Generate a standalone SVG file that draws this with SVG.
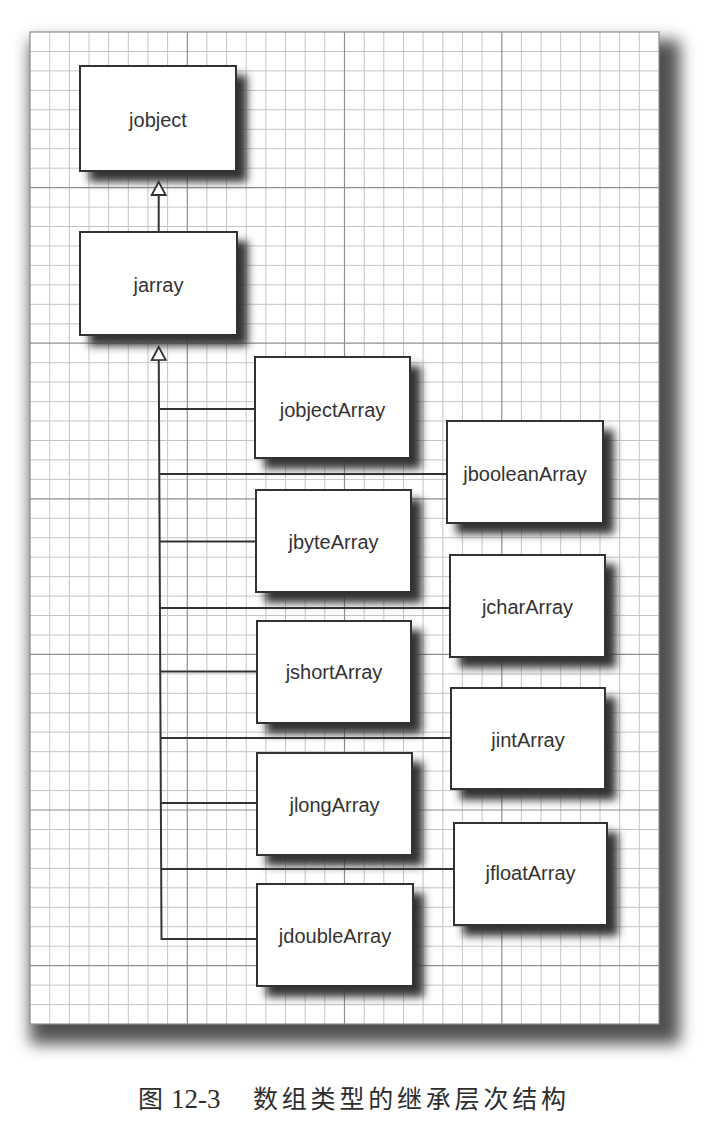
<svg xmlns="http://www.w3.org/2000/svg" width="704" height="1130" viewBox="0 0 704 1130">
<defs>
<style>
.minor{fill:none;stroke:#c4c4c4;stroke-width:1}
.major{fill:none;stroke:#8e8e8e;stroke-width:1.2}
.box{fill:#fff;stroke:#333;stroke-width:2}
.lbl{font-family:"Liberation Sans",Arial,Helvetica,sans-serif;font-size:20px;fill:#333;text-anchor:middle}
.conn{fill:none;stroke:#333;stroke-width:2;stroke-linejoin:miter}
.cap{font-family:"Liberation Serif","Noto Sans CJK SC",serif;font-size:25px;fill:#2e2e2e}
</style>
<filter id="pshadow" x="-10%" y="-10%" width="120%" height="120%">
<feGaussianBlur stdDeviation="8"/>
</filter>
<filter id="nshadow" x="-25%" y="-25%" width="160%" height="160%">
<feGaussianBlur in="SourceAlpha" stdDeviation="4" result="bl"/>
<feOffset in="bl" dx="10" dy="10" result="off"/>
<feFlood flood-color="#333" flood-opacity="1"/>
<feComposite in2="off" operator="in"/>
<feMerge><feMergeNode/><feMergeNode in="SourceGraphic"/></feMerge>
</filter>
<marker id="tri" viewBox="-2 -9 18 18" refX="13" refY="0" markerWidth="18" markerHeight="18" markerUnits="userSpaceOnUse" orient="auto">
<path d="M0,-7 L13,0 L0,7 Z" fill="#fff" stroke="#333" stroke-width="1.8"/>
</marker>
</defs>
<rect width="704" height="1130" fill="#fff"/>
<g id="panel">
<rect x="30" y="40" width="650" height="1004" fill="#333" opacity="0.85" filter="url(#pshadow)"/>
<rect x="30" y="32" width="629" height="992" fill="#fff"/>
<path class="minor" d="M49.7,32V1024M69.3,32V1024M89,32V1024M108.6,32V1024M128.3,32V1024M147.9,32V1024M167.6,32V1024M206.9,32V1024M226.6,32V1024M246.2,32V1024M265.9,32V1024M285.5,32V1024M305.2,32V1024M324.8,32V1024M364.2,32V1024M383.8,32V1024M403.5,32V1024M423.1,32V1024M442.8,32V1024M462.4,32V1024M482.1,32V1024M521.4,32V1024M541.1,32V1024M560.7,32V1024M580.4,32V1024M600,32V1024M619.7,32V1024M639.3,32V1024"/>
<path class="minor" d="M30,51.5H659M30,70.9H659M30,90.4H659M30,109.8H659M30,129.3H659M30,148.7H659M30,168.2H659M30,207.1H659M30,226.5H659M30,246H659M30,265.4H659M30,284.9H659M30,304.3H659M30,323.8H659M30,362.7H659M30,382.1H659M30,401.6H659M30,421H659M30,440.5H659M30,459.9H659M30,479.4H659M30,518.3H659M30,537.7H659M30,557.2H659M30,576.6H659M30,596.1H659M30,615.5H659M30,635H659M30,673.9H659M30,693.3H659M30,712.8H659M30,732.2H659M30,751.7H659M30,771.1H659M30,790.6H659M30,829.5H659M30,848.9H659M30,868.4H659M30,887.8H659M30,907.3H659M30,926.7H659M30,946.2H659M30,985.1H659M30,1004.6H659"/>
<path class="major" d="M187.3,32V1024M344.5,32V1024M501.8,32V1024M30,187.6H659M30,343.2H659M30,498.8H659M30,654.4H659M30,810H659M30,965.7H659"/>
<rect x="30" y="32" width="629" height="992" fill="none" stroke="#8e8e8e" stroke-width="1.2"/>
</g>
<g id="nodes">
<g id="jobject"><rect class="box" x="80" y="66" width="156" height="105" filter="url(#nshadow)"/><text class="lbl" x="158" y="127">jobject</text></g>
<g id="jarray"><rect class="box" x="80" y="232" width="157" height="103" filter="url(#nshadow)"/><text class="lbl" x="158.5" y="292">jarray</text></g>
<g id="jobjectArray"><rect class="box" x="255" y="357" width="155" height="101" filter="url(#nshadow)"/><text class="lbl" x="332.5" y="417">jobjectArray</text></g>
<g id="jbooleanArray"><rect class="box" x="447" y="421" width="156" height="102" filter="url(#nshadow)"/><text class="lbl" x="525" y="481">jbooleanArray</text></g>
<g id="jbyteArray"><rect class="box" x="256" y="490" width="155" height="102" filter="url(#nshadow)"/><text class="lbl" x="333.5" y="549">jbyteArray</text></g>
<g id="jcharArray"><rect class="box" x="450" y="555" width="155" height="102" filter="url(#nshadow)"/><text class="lbl" x="527.5" y="614">jcharArray</text></g>
<g id="jshortArray"><rect class="box" x="257" y="621" width="154" height="102" filter="url(#nshadow)"/><text class="lbl" x="334" y="679">jshortArray</text></g>
<g id="jintArray"><rect class="box" x="451" y="688" width="154" height="101" filter="url(#nshadow)"/><text class="lbl" x="528" y="747">jintArray</text></g>
<g id="jlongArray"><rect class="box" x="257" y="753" width="155" height="102" filter="url(#nshadow)"/><text class="lbl" x="334.5" y="812">jlongArray</text></g>
<g id="jfloatArray"><rect class="box" x="454" y="823" width="153" height="102" filter="url(#nshadow)"/><text class="lbl" x="530.5" y="880">jfloatArray</text></g>
<g id="jdoubleArray"><rect class="box" x="257" y="884" width="156" height="102" filter="url(#nshadow)"/><text class="lbl" x="335" y="943">jdoubleArray</text></g>
</g>
<g id="connectors">
<path class="conn" d="M158.7,232V182" marker-end="url(#tri)"/>
<path class="conn" d="M257,939H161.5L158.7,347" marker-end="url(#tri)"/>
<path class="conn" d="M159,409H255M159.3,474H447M159.6,541.5H256M159.9,608H450M160.2,671.5H257M160.5,738H451M160.9,803H257M161.2,869H454"/>
</g>
<g id="caption">
<text class="cap" x="138" y="1108">图</text>
<text class="cap" x="171" y="1108" style="font-size:27px">12-3</text>
<text class="cap" x="253" y="1108" letter-spacing="3.8">数组类型的继承层次结构</text>
</g>
</svg>
